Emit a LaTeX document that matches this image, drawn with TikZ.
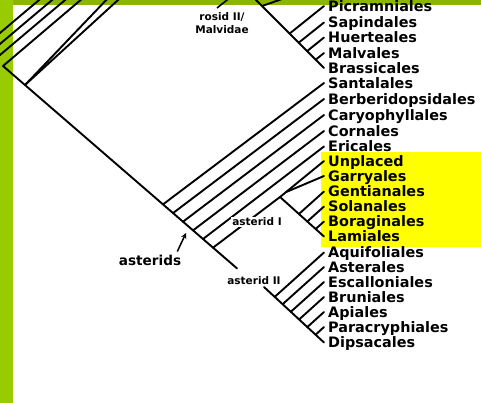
\documentclass[tikz,border=0pt]{standalone}
\usepackage{fontspec}
\setmainfont{DejaVu Sans}
\usetikzlibrary{arrows,calc}

\definecolor{sidegreen}{RGB}{153,204,0}
\definecolor{topgreen}{RGB}{138,182,0}
\definecolor{hilite}{RGB}{255,255,0}

\begin{document}
\begin{tikzpicture}[x=1pt,y=-1pt,>=stealth,
  br/.style={line width=1.9pt,line cap=round},
  ord/.style={anchor=west,inner xsep=4pt,inner ysep=0pt,text height=10.5pt,text depth=0pt,font=\fontsize{14.4}{15}\selectfont\bfseries},
  grp/.style={font=\fontsize{10.5}{12.5}\selectfont\bfseries,inner sep=1pt,align=center}]
\useasboundingbox (0,0) rectangle (481,403);
\clip (0,0) rectangle (481,403);
\fill[sidegreen] (0,0) rectangle (13,403);
\fill[topgreen] (13,0) rectangle (481,5);
\fill[hilite] (321,152.5) rectangle (481,246.5);

% orders
\node[ord] (pic) at (324,6) {Picramniales};
\node[ord] (sapi) at (324,22.5) {Sapindales};
\node[ord] (huer) at (324,37.5) {Huerteales};
\node[ord] (malv) at (324,53) {Malvales};
\node[ord] (bras) at (324,68) {Brassicales};
\node[ord] (sant) at (324,83) {Santalales};
\node[ord] (berb) at (324,99) {Berberidopsidales};
\node[ord] (cary) at (324,115) {Caryophyllales};
\node[ord] (corn) at (324,131) {Cornales};
\node[ord] (eric) at (324,146.5) {Ericales};
\node[ord] (unpl) at (324,161) {Unplaced};
\node[ord] (garr) at (324,176) {Garryales};
\node[ord] (gent) at (324,191.5) {Gentianales};
\node[ord] (sola) at (324,206.5) {Solanales};
\node[ord] (bora) at (324,221.5) {Boraginales};
\node[ord] (lami) at (324,236.5) {Lamiales};
\node[ord] (aqui) at (324,252.5) {Aquifoliales};
\node[ord] (aste) at (324,267) {Asterales};
\node[ord] (esca) at (324,282) {Escalloniales};
\node[ord] (brun) at (324,297) {Bruniales};
\node[ord] (apia) at (324,312) {Apiales};
\node[ord] (para) at (324,327) {Paracryphiales};
\node[ord] (dips) at (324,342.5) {Dipsacales};

% branching points
\coordinate (root) at (3,66);
\coordinate (ne) at (25,85);
\coordinate (n1) at (163,204.4);
\coordinate (n2) at (173,213.1);
\coordinate (n3) at (183,221.7);
\coordinate (n4) at (193,230.4);
\coordinate (n5) at (203,239);
\coordinate (n6) at (213,247.7);
\coordinate (mend) at (237,268.4);
\coordinate (ri0) at (251,-5);
\coordinate (ri1) at (262,6);
\coordinate (ri2) at (289.6,33.6);
\coordinate (ri3) at (298.7,42.7);
\coordinate (ri4) at (307.1,51.1);
\coordinate (ri5) at (315.7,59.7);
\coordinate (la0) at (280,197);
\coordinate (la1) at (286,192.1);
\coordinate (la2) at (298.9,214);
\coordinate (la3) at (307.3,221.5);
\coordinate (la4) at (315.6,229);
\coordinate (as0) at (264,287);
\coordinate (as1) at (274.7,296.9);
\coordinate (as2) at (282.6,304.2);
\coordinate (as3) at (290.8,311.8);
\coordinate (as4) at (299.1,319.5);
\coordinate (as5) at (307.3,327.1);
\coordinate (as6) at (315.5,334.8);

% lines leaving the frame
\coordinate (xa0) at (-6,38); \coordinate (xa1) at (45,-5);
\coordinate (xb0) at (-6,49); \coordinate (xb1) at (58,-5);
\coordinate (xc0) at (-6,60); \coordinate (xc1) at (71,-5);
\coordinate (xd) at (86.5,-5);
\coordinate (xe1) at (111,-5);
\coordinate (xe2) at (123.5,-5);
\coordinate (xr) at (285,-2);

\draw[br] (xa0) -- (xa1);
\draw[br] (xb0) -- (xb1);
\draw[br] (xc0) -- (xc1);
\draw[br] (root) -- (xd);
\draw[br] (ne) -- (xe1);
\draw[br] (ne) -- (xe2);

% rosid II
\draw[br] (ri0) -- (bras.west);
\draw[br] (ri1) -- (xr);
\draw[br] (ri2) -- (pic.west);
\draw[br] (ri3) -- (sapi.west);
\draw[br] (ri4) -- (huer.west);
\draw[br] (ri5) -- (malv.west);

% asterids
\draw[br] (root) -- (mend);
\draw[br] (n1) -- (sant.west);
\draw[br] (n2) -- (berb.west);
\draw[br] (n3) -- (cary.west);
\draw[br] (n4) -- (corn.west);
\draw[br] (n5) -- (eric.west);
\draw[br] (n6) -- (la0);
\draw[br] (la0) -- (unpl.west);
\draw[br] (la1) -- (garr.west);
\draw[br] (la0) -- (lami.west);
\draw[br] (la2) -- (gent.west);
\draw[br] (la3) -- (sola.west);
\draw[br] (la4) -- (bora.west);
\draw[br] (as0) -- (dips.west);
\draw[br] (as1) -- (aqui.west);
\draw[br] (as2) -- (aste.west);
\draw[br] (as3) -- (esca.west);
\draw[br] (as4) -- (brun.west);
\draw[br] (as5) -- (apia.west);
\draw[br] (as6) -- (para.west);

% clade labels
\node[grp] (rosid) at (222,23) {rosid II/\\Malvidae};
\coordinate (rfoot) at (217,8);
\coordinate (rtip) at (232,-4);
\draw[line width=1.6pt] (rfoot) -- (rtip);
\node[grp,fill=white] (astI) at (257,222) {asterid I};
\node[grp,fill=white] (astII) at (254,281) {asterid II};
\node[grp,font=\fontsize{13.6}{15}\selectfont\bfseries] (ast) at (150,260) {asterids};
\coordinate (astip) at (186,233);
\draw[->,line width=1.5pt] ([xshift=-5pt,yshift=2pt]ast.north east) -- (astip);
\end{tikzpicture}
\end{document}
